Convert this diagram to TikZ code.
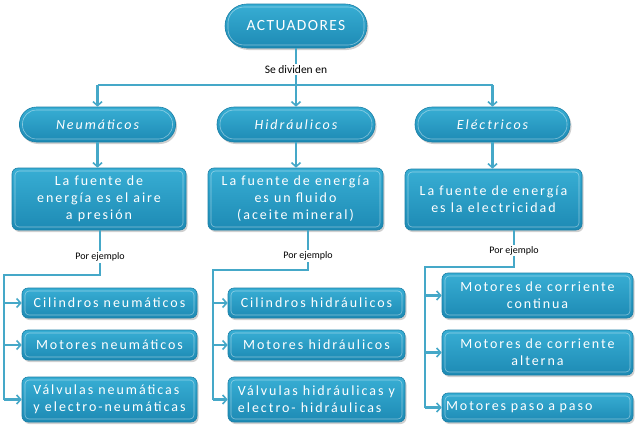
\documentclass[tikz,border=0pt]{standalone}
\usepackage{fontspec}
\setmainfont{Carlito}
\newfontfamily\boxfont[LetterSpace=14]{Carlito}
\newfontfamily\titlefont[LetterSpace=9]{Carlito}
\usetikzlibrary{arrows.meta,shadows}
\definecolor{conncol}{HTML}{45A8C8}
\definecolor{boxtop}{HTML}{38AED4}
\definecolor{boxbot}{HTML}{1D8AB4}
\definecolor{boxedge}{HTML}{1A7FA6}
\tikzset{
  x=1pt,y=-1pt,
  bx/.style={draw=boxedge,line width=0.6pt,top color=boxtop,bottom color=boxbot,
    text=white,font=\boxfont\fontsize{14}{17}\selectfont,inner sep=2pt,
    drop shadow={shadow xshift=1.5pt,shadow yshift=-2pt,opacity=0.3,fill=black!60},
    path picture={\draw[white,opacity=0.45,line width=0.6pt,rounded corners=#1]
      ([xshift=3pt,yshift=-3pt]path picture bounding box.north west) rectangle
      ([xshift=-3pt,yshift=3pt]path picture bounding box.south east);}},
  bx/.default=4pt,
  pill/.style={bx=14pt,rounded corners=17pt},
  sq/.style={bx=4pt,rounded corners=6pt},
  conn/.style={draw=conncol,line width=2.4pt},
  arr/.style={conn,-{Straight Barb[length=4pt,width=9pt,line width=1.6pt]}},
  lbl/.style={fill=white,text=black,font=\fontsize{10}{11}\selectfont,inner sep=1.5pt}
}
\begin{document}
\begin{tikzpicture}
\fill[white] (0,0) rectangle (640,431);
\useasboundingbox (0,0) rectangle (640,431);

% top
\node[bx=16pt,rounded corners=22pt,minimum width=142pt,minimum height=44pt,font=\titlefont\fontsize{15.5}{18}\selectfont] (act) at (296,26) {ACTUADORES};

\node[pill,minimum width=156pt,minimum height=35pt,font=\boxfont\itshape\fontsize{14}{17}\selectfont] (neu) at (97.5,124.5) {Neumáticos};
\node[pill,minimum width=158pt,minimum height=35pt,font=\boxfont\itshape\fontsize{14}{17}\selectfont] (hid) at (296,124.5) {Hidráulicos};
\node[pill,minimum width=155pt,minimum height=35pt,font=\boxfont\itshape\fontsize{14}{17}\selectfont] (ele) at (492.5,124.5) {Eléctricos};

\node[sq,minimum width=174pt,minimum height=62pt,align=center] (f1) at (99,199) {La fuente de\\energía es el aire\\a presión};
\node[sq,minimum width=175pt,minimum height=62pt,align=center] (f2) at (295.5,199) {La fuente de energía\\es un fluido\\(aceite mineral)};
\node[sq,minimum width=177pt,minimum height=61pt,align=center] (f3) at (493.5,199.5) {La fuente de energía\\es la electricidad};

% column 1
\node[sq,minimum width=175pt,minimum height=30pt,align=center] (a1) at (109.5,303) {Cilindros neumáticos};
\node[sq,minimum width=175pt,minimum height=30pt,align=center] (a2) at (109.5,345) {Motores neumáticos};
\node[sq,minimum width=175pt,minimum height=45pt,align=left] (a3) at (109.5,399.5) {Válvulas neumáticas\\y electro-neumáticas};
% column 2
\node[sq,minimum width=177pt,minimum height=30pt,align=center] (b1) at (316.5,303) {Cilindros hidráulicos};
\node[sq,minimum width=177pt,minimum height=30pt,align=center] (b2) at (316.5,345) {Motores hidráulicos};
\node[sq,minimum width=177pt,minimum height=45pt,align=left] (b3) at (316.5,399.5) {Válvulas hidráulicas y\\electro- hidráulicas};
% column 3
\node[sq,minimum width=191pt,minimum height=45pt,align=center] (c1) at (537.5,295.5) {Motores de corriente\\continua};
\node[sq,minimum width=191pt,minimum height=45pt,align=center] (c2) at (537.5,352.5) {Motores de corriente\\alterna};
\node[sq,minimum width=191pt,minimum height=29pt,align=left,text width=183pt] (c3) at (537.5,407.5) {Motores paso a paso};

% connectors top
\coordinate (bus) at (0,85);
\draw[conn] (neu.north |- bus) -- (ele.north |- bus);
\draw[arr] (act.south) -- node[lbl,pos=0.37,font=\fontsize{11.5}{13}\selectfont] {Se dividen en} (hid.north);
\draw[arr] (neu.north |- bus) -- (neu.north);
\draw[arr] (ele.north |- bus) -- (ele.north);

\draw[arr] (neu.south) -- (neu.south |- f1.north);
\draw[arr] (hid.south) -- (hid.south |- f2.north);
\draw[arr] (ele.south) -- (ele.south |- f3.north);

% column 1 tree
\coordinate (t1) at (100,275);
\coordinate (l1) at (4,275);
\draw[conn] (t1 |- f1.south) -- node[lbl,pos=0.6] {Por ejemplo} (t1) -- (l1) -- (l1 |- a3.west);
\draw[arr] (l1 |- a1.west) -- (a1.west);
\draw[arr] (l1 |- a2.west) -- (a2.west);
\draw[arr] (l1 |- a3.west) -- (a3.west);

% column 2 tree
\coordinate (t2) at (308,270);
\coordinate (l2) at (213,270);
\draw[conn] (t2 |- f2.south) -- node[lbl,pos=0.65] {Por ejemplo} (t2) -- (l2) -- (l2 |- b3.west);
\draw[arr] (l2 |- b1.west) -- (b1.west);
\draw[arr] (l2 |- b2.west) -- (b2.west);
\draw[arr] (l2 |- b3.west) -- (b3.west);

% column 3 tree
\coordinate (t3) at (514,267);
\coordinate (l3) at (425,267);
\draw[conn] (t3 |- f3.south) -- node[lbl,pos=0.55] {Por ejemplo} (t3) -- (l3) -- (l3 |- c3.west);
\draw[arr] (l3 |- c1.west) -- (c1.west);
\draw[arr] (l3 |- c2.west) -- (c2.west);
\draw[arr] (l3 |- c3.west) -- (c3.west);
\end{tikzpicture}
\end{document}
